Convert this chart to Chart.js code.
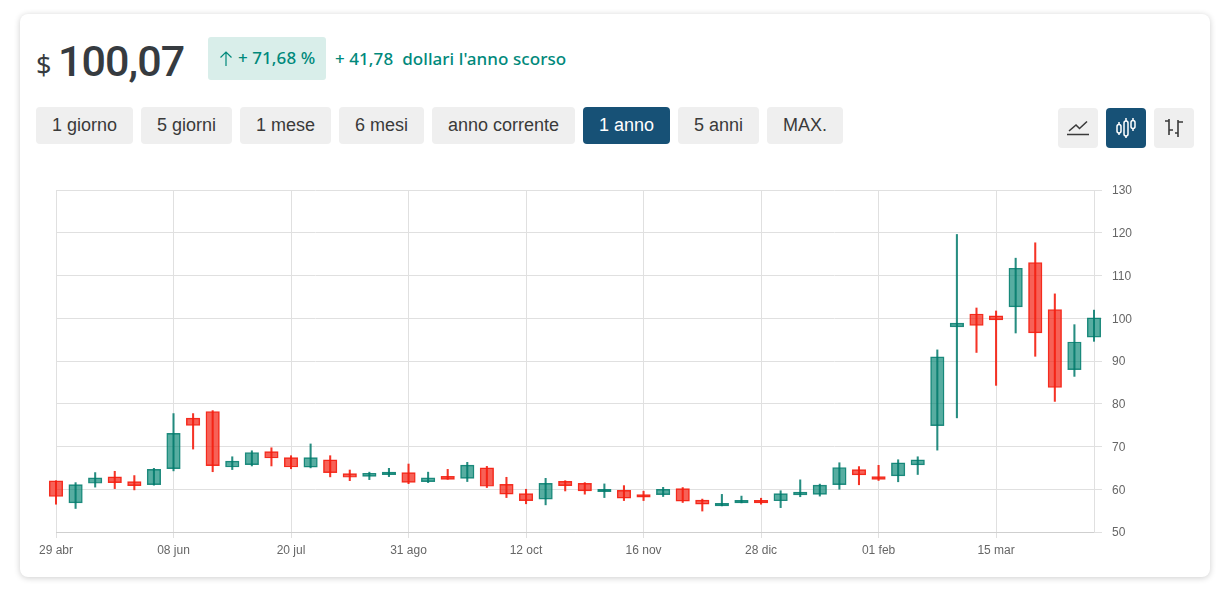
<!DOCTYPE html>
<html lang="it">
<head>
<meta charset="utf-8">
<script src="https://cdn.jsdelivr.net/npm/chart.js@4"></script>
<style>
html,body{margin:0;padding:0;background:#fff;width:1226px;height:589px;overflow:hidden}
#card{position:absolute;left:20px;top:14px;width:1190px;height:563px;background:#fff;border-radius:8px;box-shadow:0 1px 6px rgba(0,0,0,.2)}
.abs{position:absolute;white-space:nowrap}
.hd{color:#363b40}
.btn{position:absolute;top:107px;height:37px;text-align:center;background:#efefef;color:#3a3a3a;border-radius:4px;font:18px/36px "Liberation Sans",Arial,sans-serif}
.btn.on{background:#175176;color:#fff}
.ic{position:absolute;top:108px;width:40px;height:40px;background:#efefef;border-radius:4px}
.ic.on{background:#175176}
.ic svg{position:absolute;left:0;top:0}
#wrap{position:absolute;left:20px;top:170px;width:1190px;height:400px}
.teal{font-family:"Noto Sans",sans-serif;color:#00897b;font-size:17px;font-weight:500;letter-spacing:.07px}
</style>
</head>
<body>
<div id="card"></div>
<div class="abs hd" style="left:36px;top:47px;font:27px/36px 'Noto Sans',sans-serif">$</div>
<div class="abs hd" style="left:58px;top:30px;font:500 43px/62px Roboto,sans-serif;letter-spacing:-.9px">100,07</div>
<div class="abs" style="left:208px;top:37px;width:118px;height:43px;background:#d9eeea;border-radius:3px"></div>
<svg class="abs" style="left:218px;top:50px" width="16" height="18" fill="none" stroke="#00897b" stroke-width="1.2"><path d="M8 2V16M2.5 7.5L8 2L13.5 7.5"/></svg>
<div class="abs teal" style="left:238px;top:46px;line-height:24px">+ 71,68 %</div>
<div class="abs teal" style="left:335px;top:47px;line-height:24px">+ 41,78&nbsp; dollari l'anno scorso</div>

<div class="btn" style="left:36px;width:97px">1 giorno</div>
<div class="btn" style="left:141px;width:91px">5 giorni</div>
<div class="btn" style="left:240px;width:91px">1 mese</div>
<div class="btn" style="left:339px;width:85px">6 mesi</div>
<div class="btn" style="left:432px;width:143px">anno corrente</div>
<div class="btn on" style="left:583px;width:87px">1 anno</div>
<div class="btn" style="left:678px;width:81px">5 anni</div>
<div class="btn" style="left:767px;width:76px">MAX.</div>

<div class="ic" style="left:1058px"><svg width="40" height="40"><path d="M9 26.5H31M11 23L18 17L21.5 20.5L29 13.5" fill="none" stroke="#3a3a3a" stroke-width="1.6"/></svg></div>
<div class="ic on" style="left:1106px"><svg width="40" height="40" fill="none" stroke="#fff" stroke-width="1.5"><rect x="11" y="16.5" width="4" height="8.5" rx="2"/><path d="M13 14V16.5M13 25V27"/><rect x="18" y="13" width="4" height="15" rx="2"/><path d="M20 10V13M20 28V30"/><rect x="25" y="12.5" width="4" height="8" rx="2"/><path d="M27 10V12.5M27 20.5V23"/></svg></div>
<div class="ic" style="left:1154px"><svg width="40" height="40" fill="none" stroke="#3a3a3a" stroke-width="1.6"><path d="M15 11V27M11 13H15M15 22H19M24 12V29M24 14H29M21 25H24"/></svg></div>

<div id="wrap"><canvas id="c" width="1190" height="400"></canvas></div>

<script>
const categories = ["29 abr","06 mag","13 mag","20 mag","27 mag","03 giu","08 jun","15 giu","22 giu","29 giu","06 lug","13 lug","20 jul","27 lug","03 ago","10 ago","17 ago","24 ago","31 ago","07 set","14 set","21 set","28 set","05 oct","12 oct","19 oct","26 oct","02 nov","09 nov","12 nov","16 nov","23 nov","30 nov","07 dic","14 dic","21 dic","28 dic","04 gen","11 gen","18 gen","25 gen","29 gen","01 feb","08 feb","15 feb","22 feb","01 mar","08 mar","15 mar","22 mar","29 mar","05 apr","12 apr","19 apr"];
const opens  = [61.95,56.8,61.4,62.9,61.8,61.1,64.8,76.65,78.15,65.2,65.75,68.8,67.4,65.15,66.9,63.65,63,63.4,63.9,61.8,63,62.55,65,61.15,59,57.7,61.85,61.4,59.45,59.75,58.75,58.75,60.15,57.45,56.1,56.8,57.4,57.3,58.7,58.8,61.1,64.6,62.95,63.1,65.7,74.9,98,101,100.55,102.65,113,102,88,95.6];
const highs  = [62,61.55,63.9,64.2,63.2,64.9,77.7,77.7,78.4,67.6,69,69.7,67.85,70.6,67.85,64.5,64,64.9,65.9,64,64.65,66.3,65.35,62.8,60,62.55,62,61.55,61.25,60.85,59.55,60.45,60.4,57.7,58.8,58.4,57.9,59.65,62.2,61.2,66.2,65.3,65.6,66.9,67.6,92.6,119.6,102.4,101.7,114.05,117.65,105.7,98.5,101.9];
const lows   = [56.5,55.5,60.5,60.15,59.85,60.95,64.3,69.4,64.1,64.6,65.45,65.45,64.8,65,62.9,62,62.25,62.95,61.3,61.55,62.3,61.8,60.4,58.05,56.6,56.35,59.6,58.85,58.05,57.35,57.35,58.3,56.9,54.9,56.1,56.8,56.5,55.7,58.25,58.4,60,61.05,62.05,61.75,63.45,69.15,76.7,92,84.3,96.55,91.1,80.55,86.4,94.6];
const closes = [58.3,61.1,62.65,61.55,60.85,64.65,73.1,74.95,65.5,66.6,68.55,67.3,65.2,67.4,63.9,62.8,63.75,64,61.6,62.65,62.3,65.65,60.7,58.85,57.35,61.4,60.85,59.6,60,57.9,58.15,60,57.2,56.5,56.7,57.4,56.8,59,59.35,60.95,65.05,63.35,62.3,66.2,66.9,90.95,98.85,98.35,99.6,111.7,96.55,83.8,94.45,100.1];
const yTicks = [50,60,70,80,90,100,110,120,130];
const tickEvery = 6;

const isUp = i => closes[i] >= opens[i];
const GREEN = "rgba(0,121,107,.85)", GREEN_F = "rgba(0,130,112,.66)";
const RED = "rgba(244,30,15,.9)", RED_F = "rgba(244,30,15,.7)";
const grid = "#e0e0e0";

new Chart(document.getElementById("c"), {
  type: "bar",
  data: {
    labels: categories,
    datasets: [
      { label: "corpo", data: opens.map((o,i)=>[o,closes[i]]), grouped:false, barThickness:13.5, clip:false, order:2,
        backgroundColor: c=>isUp(c.dataIndex)?GREEN_F:RED_F,
        borderColor: c=>isUp(c.dataIndex)?GREEN:RED, borderWidth:0.8, borderSkipped:false },
      { label: "ombra", data: lows.map((l,i)=>[l,highs[i]]), grouped:false, barThickness:1.4, clip:false, order:1,
        backgroundColor: c=>isUp(c.dataIndex)?GREEN:RED, borderWidth:0 }
    ]
  },
  options: {
    responsive:false, animation:false, devicePixelRatio:1,
    layout:{ padding:{ left:36, right:56, top:20, bottom:8 } },
    plugins:{ legend:{display:false}, tooltip:{enabled:false} },
    scales:{
      x:{ type:"category", offset:false, stacked:false,
        afterBuildTicks: s => { s.ticks = s.ticks.filter(t => t.value % tickEvery === 0); },
        afterFit: s => { s.height = 30; },
        grid:{ color:grid, offset:false, tickLength:6, drawOnChartArea:true },
        border:{ color:"#cfcfcf" },
        ticks:{ autoSkip:false, maxRotation:0, color:"#666", padding:5, font:{ family:"Liberation Sans", size:12 } } },
      y:{ position:"right", min:50, max:130,
        afterBuildTicks: s => { s.ticks = yTicks.map(v=>({value:v})); },
        afterFit: s => { s.width = 60; },
        grid:{ color:grid, tickLength:8 },
        border:{ color:grid },
        ticks:{ color:"#666", padding:10, labelOffset:1, font:{ family:"Liberation Sans", size:12 } } }
    }
  }
});
</script>
</body>
</html>
